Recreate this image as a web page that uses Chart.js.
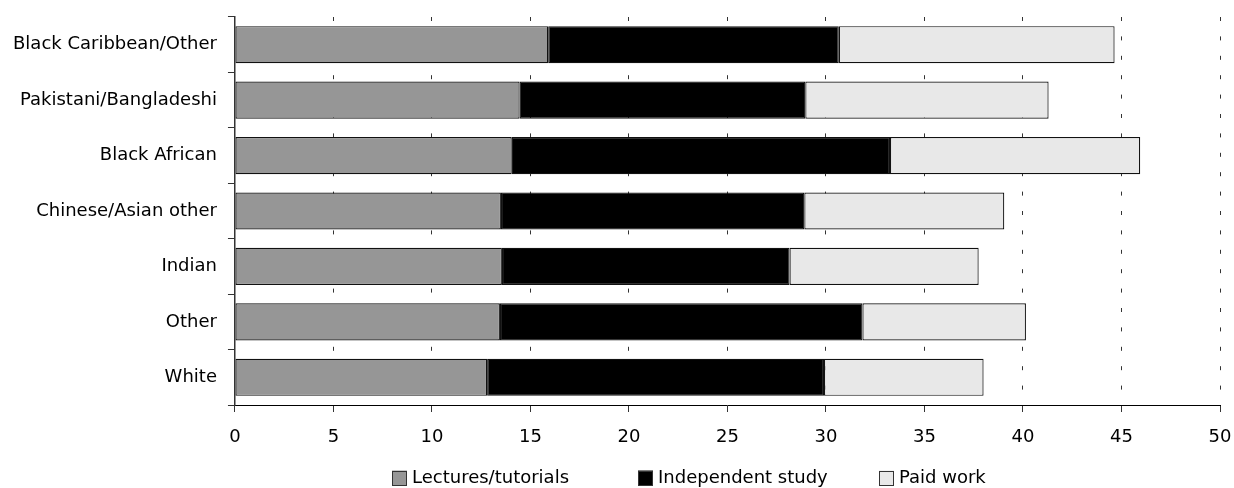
<!DOCTYPE html>
<html>
<head>
<meta charset="utf-8">
<script src="https://cdn.jsdelivr.net/npm/chart.js@4/dist/chart.umd.min.js"></script>
<style>
  html, body { margin: 0; padding: 0; background: #fff; }
  #wrap { width: 1234px; height: 488px; }
</style>
</head>
<body>
<div id="wrap"><canvas id="chart"></canvas></div>
<script>
var groups = ['Black Caribbean/Other', 'Pakistani/Bangladeshi', 'Black African', 'Chinese/Asian other', 'Indian', 'Other', 'White'];
var lectures = [15.9, 14.45, 14.05, 13.5, 13.55, 13.45, 12.8];
var independent = [14.75, 14.5, 19.2, 15.4, 14.6, 18.4, 17.1];
var paidWork = [14.0, 12.35, 12.7, 10.15, 9.6, 8.3, 8.1];
var xTicks = [0, 5, 10, 15, 20, 25, 30, 35, 40, 45, 50];

var fontFamily = '"DejaVu Sans", Verdana, sans-serif';
Chart.defaults.font.family = fontFamily;
Chart.defaults.font.size = 18;
Chart.defaults.color = '#000';

// legend drawn by hand so the item spacing can match the original
var bottomLegend = {
    id: 'bottomLegend',
    afterDraw(chart) {
        var ctx = chart.ctx;
        var left = chart.chartArea.left;
        var offsets = [157, 403, 644];
        var box = 15, gap = 5, y = 478;
        ctx.save();
        ctx.font = '18px ' + fontFamily;
        ctx.textBaseline = 'middle';
        chart.data.datasets.forEach((ds, i) => {
            var x = Math.round(left + offsets[i]);
            ctx.fillStyle = ds.backgroundColor;
            ctx.fillRect(x, y - box / 2, box, box);
            ctx.strokeStyle = '#333';
            ctx.lineWidth = 1;
            ctx.strokeRect(x + 0.5, Math.round(y - box / 2) + 0.5, box - 1, box - 1);
            ctx.fillStyle = '#000';
            ctx.fillText(ds.label, x + box + gap, y);
        });
        ctx.restore();
    }
};

new Chart(document.getElementById('chart'), {
    type: 'bar',
    data: {
        labels: groups,
        datasets: [
            { label: 'Lectures/tutorials', data: lectures, backgroundColor: '#969696' },
            { label: 'Independent study', data: independent, backgroundColor: '#000000' },
            { label: 'Paid work', data: paidWork, backgroundColor: '#e8e8e8' }
        ]
    },
    options: {
        indexAxis: 'y',
        responsive: true,
        maintainAspectRatio: false,
        animation: false,
        layout: { padding: { top: 17, right: 14, left: 2, bottom: 33 } },
        datasets: {
            bar: {
                borderColor: '#111',
                borderWidth: 1.2,
                borderSkipped: false,
                barPercentage: 0.67,
                categoryPercentage: 1
            }
        },
        plugins: {
            legend: { display: false },
            tooltip: { enabled: false }
        },
        scales: {
            x: {
                stacked: true,
                min: 0,
                max: 50,
                afterBuildTicks: axis => { axis.ticks = xTicks.map(v => ({ value: v })); },
                afterFit: axis => {
                    axis.height = 50;
                    axis.paddingLeft = 0;
                    axis.paddingRight = 0;
                },
                grid: {
                    color: '#333',
                    lineWidth: 1,
                    tickLength: 7,
                    tickColor: '#333',
                    tickBorderDash: []
                },
                border: { color: '#000', width: 1, dash: [4, 15.4] },
                ticks: { padding: 15 }
            },
            y: {
                stacked: true,
                afterFit: axis => {
                    axis.paddingTop = 0;
                    axis.paddingBottom = 0;
                },
                grid: {
                    drawOnChartArea: false,
                    tickLength: 7,
                    color: '#333'
                },
                border: { color: '#333', width: 1.5 },
                ticks: { padding: 11 }
            }
        }
    },
    plugins: [bottomLegend]
});
</script>
</body>
</html>
